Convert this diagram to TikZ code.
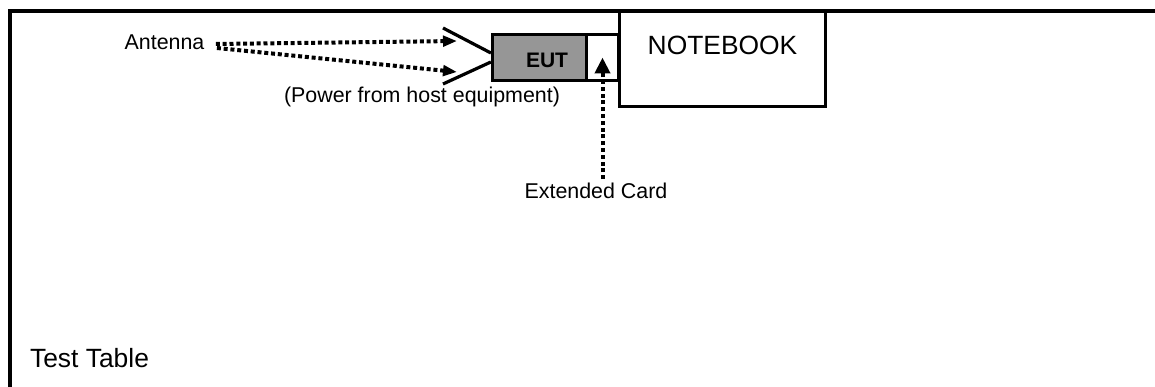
\documentclass[tikz,border=0pt]{standalone}
\usepackage{fontspec}
\setmainfont{Liberation Sans}
\usetikzlibrary{arrows.meta}

\begin{document}
\begin{tikzpicture}[x=1pt,y=-1pt,
	box/.style={rectangle,draw,line width=3.2pt,inner sep=0pt},
	dotarrow/.style={line width=4pt,dash pattern=on 4pt off 2.8pt,-{Triangle[length=14pt,width=10.5pt]}},
	bigtext/.style={font=\fontsize{26.4}{31}\selectfont},
	smalltext/.style={font=\fontsize{21.4}{25}\selectfont}]
	\useasboundingbox (0,0) rectangle (1155,387);

	% test table edges
	\draw[line width=4.2pt] (10,387) -- (10,11) -- (1155,11);

	\draw[] (539.5,57.5) node[box,fill={rgb,255:red,150;green,150;blue,150},minimum width=94pt,minimum height=46pt,
		label={[xshift=7.5pt,yshift=-3pt,font=\fontsize{21}{25}\selectfont\bfseries]center:EUT}] (EUTbox) {};
	\draw[] (602.5,57.5) node[box,fill=white,minimum width=32pt,minimum height=46pt] (Cardslot) {};
	\draw[] (722.5,59) node[box,fill=white,minimum width=206pt,minimum height=95pt,
		label={[yshift=13.5pt,bigtext]center:NOTEBOOK}] (Notebook) {};

	\draw[] (164.5,42.5) node[smalltext] (Antenna) {Antenna};
	\draw[] (422,96.5) node[smalltext] (Power) {(Power from host equipment)};
	\draw[] (596,190.5) node[smalltext] (Extcard) {Extended Card};
	\draw[] (89.5,358) node[bigtext] (Testtable) {Test Table};

	% antenna
	\coordinate (AntTop) at (443,28);
	\coordinate (AntBot) at (443,84);
	\draw[line width=3.2pt] (AntTop) -- ([yshift=4.5pt]EUTbox.west);
	\draw[line width=3.2pt] (AntBot) -- ([yshift=-4.5pt]EUTbox.west);

	\coordinate (TipTop) at (457,41);
	\coordinate (TipBot) at (457,72);
	\draw[dotarrow] ([xshift=8pt,yshift=-1.5pt]Antenna.east) -- (TipTop);
	\draw[dotarrow] ([xshift=9pt,yshift=-5.5pt]Antenna.east) -- (TipBot);

	\draw[dotarrow,-{Triangle[length=16pt,width=15pt]}] (Cardslot |- Extcard.north) -- (Cardslot.center);
\end{tikzpicture}
\end{document}
